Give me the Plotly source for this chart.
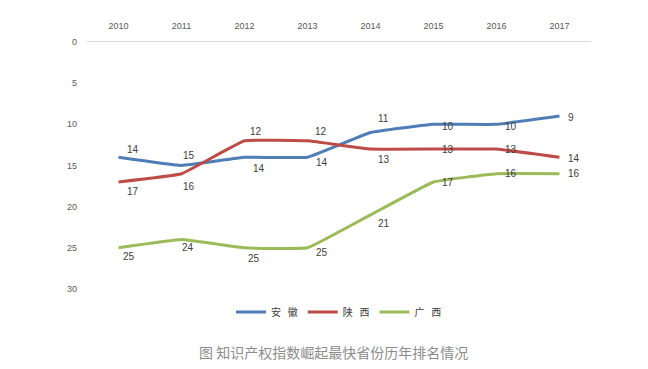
import plotly.graph_objects as go

years = ["2010", "2011", "2012", "2013", "2014", "2015", "2016", "2017"]
anhui = [14, 15, 14, 14, 11, 10, 10, 9]
shaanxi = [17, 16, 12, 12, 13, 13, 13, 14]
guangxi = [25, 24, 25, 25, 21, 17, 16, 16]
names = ["安\u00a0\u00a0\u00a0徽", "陕\u00a0\u00a0\u00a0西", "广\u00a0\u00a0\u00a0西"]
colors = ["#4F7DB5", "#BE4B48", "#9BBB59"]

# label offsets in pixels (dx right, dy down)
off_anhui = [(14, -8), (7, -10), (14, 11), (14, 5), (13, -14), (14, 2), (14, 2), (11, 1)]
off_shaanxi = [(14, 10), (7, 13), (11, -9), (13, -9), (13, 10), (14, 0), (14, 0), (14, 1)]
off_guangxi = [(10, 9), (6, 8), (9, 11), (14, 5), (13, 9), (14, 1), (14, 0), (14, 0)]

fig = go.Figure()
for name, vals, col, offs in zip(names, [anhui, shaanxi, guangxi], colors,
                                 [off_anhui, off_shaanxi, off_guangxi]):
    fig.add_trace(go.Scatter(
        x=years, y=vals, name=name, mode="lines",
        line=dict(color=col, width=3, shape="spline", smoothing=0.25),
        hoverinfo="x+y",
    ))
    for i, (yv, (dx, dy)) in enumerate(zip(vals, offs)):
        # category axis: annotation x given as category index
        fig.add_annotation(x=i, y=yv, xref="x", yref="y", text=str(yv), showarrow=False,
                           xshift=dx, yshift=-dy, xanchor="center", yanchor="middle",
                           font=dict(size=10, color="#404040", family="Liberation Sans"))

fig.update_layout(
    width=648, height=369,
    margin=dict(l=79, r=65, t=34, b=88, autoexpand=False),
    paper_bgcolor="white", plot_bgcolor="white",
    font=dict(family="Liberation Sans, Noto Sans CJK SC", size=9, color="#595959"),
    xaxis=dict(type="category", categoryorder="array", categoryarray=years,
               range=[-0.5, len(years) - 0.5],
               side="top", showgrid=False, showline=True,
               linecolor="#D9D9D9", linewidth=1, ticks="", tickfont=dict(size=9, color="#595959"),
               ticklabelstandoff=8, automargin=False),
    yaxis=dict(range=[30, 0], dtick=5, tick0=0, showgrid=False, zeroline=False,
               showline=False, ticks="", tickfont=dict(size=9, color="#595959"),
               ticklabelstandoff=9, automargin=False),
    legend=dict(orientation="h", x=0.5, xanchor="center", y=-0.093, yanchor="middle",
                font=dict(size=10, color="#404040", family="Noto Sans CJK SC"),
                itemwidth=30),
    showlegend=True,
)
fig.add_annotation(text="图 知识产权指数崛起最快省份历年排名情况", xref="paper", yref="paper",
                   x=0.49, y=-0.255, showarrow=False, xanchor="center", yanchor="middle",
                   font=dict(size=14, color="#8C8C8C", family="Noto Sans CJK SC"))

fig.write_html("out.html")
